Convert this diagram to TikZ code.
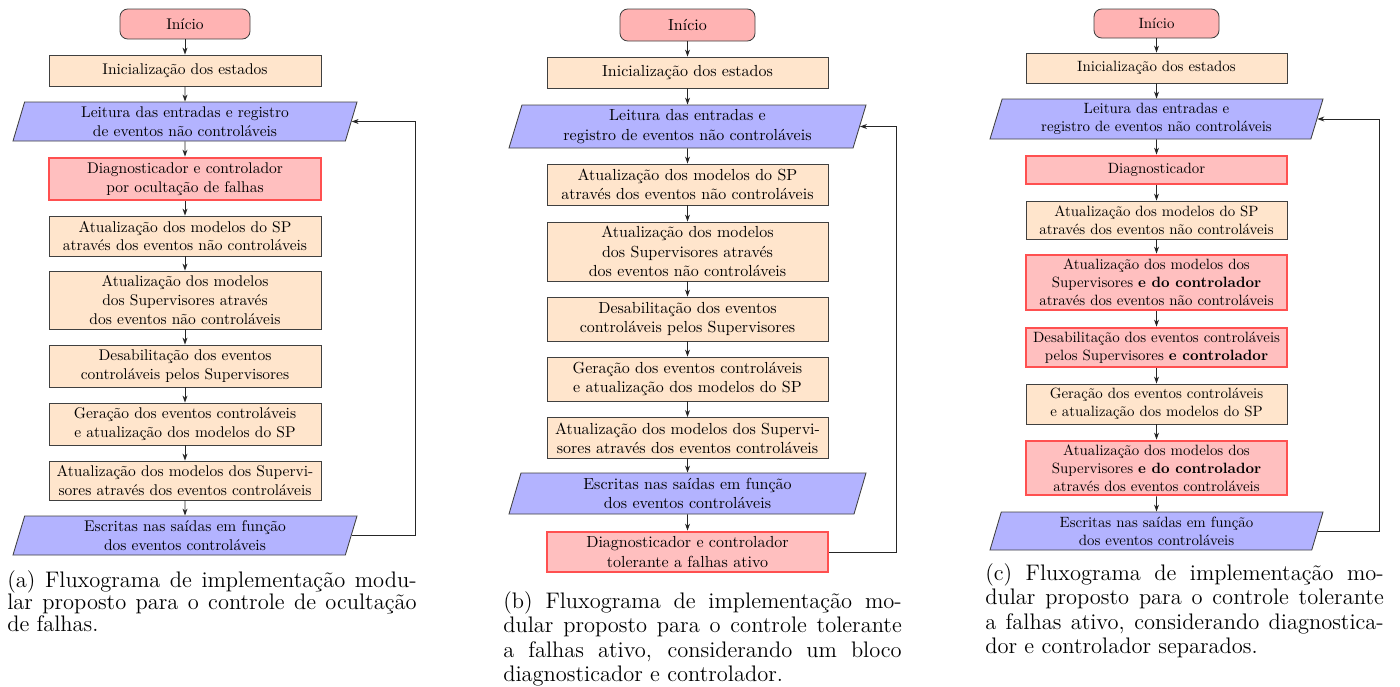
\documentclass[tikz,border=0pt]{standalone}
\usepackage{xcolor}
\usepackage{tikz}
\usetikzlibrary{shapes.geometric, arrows.meta}
\definecolor{startred}{RGB}{255,179,179}
\definecolor{procorange}{RGB}{255,229,204}
\definecolor{ioblue}{RGB}{179,179,255}
\definecolor{hotfill}{RGB}{255,191,191}
\definecolor{hotedge}{RGB}{255,80,80}
\newcommand{\pxu}{*0.645pt}

\tikzset{
  base/.style={align=center, inner sep=2pt, draw=black!75, line width=0.55pt},
  startbox/.style={base, rectangle, rounded corners=5pt, fill=startred},
  procbox/.style={base, rectangle, fill=procorange},
  iobox/.style={base, trapezium, trapezium left angle=72, trapezium right angle=108,
    trapezium stretches body, fill=ioblue},
  hotbox/.style={base, rectangle, draw=hotedge, line width=1.8pt, fill=hotfill},
  flow/.style={-{Stealth[length=4.5pt,width=3.2pt]}, black!85, line width=0.55pt},
  capnode/.style={anchor=north west, inner sep=0pt, align=left},
}

\begin{document}
\begin{tikzpicture}[x=0.645pt, y=-0.645pt]
  \useasboundingbox (0,0) rectangle (1400,686);

  % (a) ocultacao de falhas
  \begin{scope}[every node/.append style={font=\fontsize{10}{12}\selectfont},
      procbox/.append style={minimum width=272\pxu},
      hotbox/.append style={minimum width=272\pxu},
      iobox/.append style={minimum width=344\pxu}]
    \node[startbox, minimum width=130\pxu, minimum height=30\pxu] (a1) at (185,24) {Início};
    \node[procbox, minimum height=31\pxu] (a2) at (185,70.5) {Inicialização dos estados};
    \node[iobox, minimum height=39\pxu] (a3) at (185,121.5) {Leitura das entradas e registro\\de eventos não controláveis};
    \node[hotbox, minimum height=42\pxu] (a4) at (185,179) {Diagnosticador e controlador\\por ocultação de falhas};
    \node[procbox, minimum height=40\pxu] (a5) at (185,236) {Atualização dos modelos do SP\\através dos eventos não controláveis};
    \node[procbox, minimum height=58\pxu] (a6) at (185,300) {Atualização dos modelos\\dos Supervisores através\\dos eventos não controláveis};
    \node[procbox, minimum height=42\pxu] (a7) at (185,366) {Desabilitação dos eventos\\controláveis pelos Supervisores};
    \node[procbox, minimum height=42\pxu] (a8) at (185,424) {Geração dos eventos controláveis\\e atualização dos modelos do SP};
    \node[procbox, minimum height=39\pxu] (a9) at (185,480.5) {Atualização dos modelos dos Supervi-\\sores através dos eventos controláveis};
    \node[iobox, minimum height=39\pxu] (a10) at (185,535.5) {Escritas nas saídas em função\\dos eventos controláveis};
    \foreach \i [count=\j from 2] in {1,...,9}
      \draw[flow] (a\i) -- (a\j);
    \coordinate (aloop) at (415,0);
    \draw[flow] (a10.east) -- (a10.east -| aloop) |- (a3.east);
    \node[capnode, font=\fontsize{14.5}{14.2}\selectfont] (acap) at (7,570) {%
      \makebox[264pt][s]{(a) Fluxograma de implementação modu-}\\
      \makebox[264pt][s]{lar proposto para o controle de ocultação}\\
      de falhas.};
  \end{scope}

  % (b) diagnosticador e controlador num bloco
  \begin{scope}[every node/.append style={font=\fontsize{10.33}{12.4}\selectfont},
      procbox/.append style={minimum width=281\pxu},
      hotbox/.append style={minimum width=281\pxu},
      iobox/.append style={minimum width=357\pxu}]
    \node[startbox, minimum width=135\pxu, minimum height=32\pxu] (b1) at (687.5,25) {Início};
    \node[procbox, minimum height=31\pxu] (b2) at (687.5,72.5) {Inicialização dos estados};
    \node[iobox, minimum height=43\pxu] (b3) at (687.5,126.5) {Leitura das entradas e\\registro de eventos não controláveis};
    \node[procbox, minimum height=41\pxu] (b4) at (687.5,184.5) {Atualização dos modelos do SP\\através dos eventos não controláveis};
    \node[procbox, minimum height=59\pxu] (b5) at (687.5,251.5) {Atualização dos modelos\\dos Supervisores através\\dos eventos não controláveis};
    \node[procbox, minimum height=44\pxu] (b6) at (687.5,319) {Desabilitação dos eventos\\controláveis pelos Supervisores};
    \node[procbox, minimum height=44\pxu] (b7) at (687.5,379) {Geração dos eventos controláveis\\e atualização dos modelos do SP};
    \node[procbox, minimum height=41\pxu] (b8) at (687.5,438) {Atualização dos modelos dos Supervi-\\sores através dos eventos controláveis};
    \node[iobox, minimum height=41\pxu] (b9) at (687.5,493.5) {Escritas nas saídas em função\\dos eventos controláveis};
    \node[hotbox, minimum height=40\pxu] (b10) at (687.5,552) {Diagnosticador e controlador\\tolerante a falhas ativo};
    \foreach \i [count=\j from 2] in {1,...,9}
      \draw[flow] (b\i) -- (b\j);
    \coordinate (bloop) at (896,0);
    \draw[flow] (b10.east) -- (b10.east -| bloop) |- (b3.east);
    \node[capnode, font=\fontsize{14.5}{15.8}\selectfont] (bcap) at (503,591) {%
      \makebox[257pt][s]{(b) Fluxograma de implementação mo-}\\
      \makebox[257pt][s]{dular proposto para o controle tolerante}\\
      \makebox[257pt][s]{a falhas ativo, considerando um bloco}\\
      diagnosticador e controlador.};
  \end{scope}

  % (c) diagnosticador e controlador separados
  \begin{scope}[every node/.append style={font=\fontsize{9.6}{11.5}\selectfont},
      procbox/.append style={minimum width=261\pxu},
      hotbox/.append style={minimum width=261\pxu},
      iobox/.append style={minimum width=333\pxu}]
    \node[startbox, minimum width=125\pxu, minimum height=29\pxu] (c1) at (1156.5,23.5) {Início};
    \node[procbox, minimum height=30\pxu] (c2) at (1156.5,68) {Inicialização dos estados};
    \node[iobox, minimum height=40\pxu] (c3) at (1156.5,119) {Leitura das entradas e\\registro de eventos não controláveis};
    \node[hotbox, minimum height=28\pxu] (c4) at (1156.5,170) {Diagnosticador};
    \node[procbox, minimum height=38\pxu] (c5) at (1156.5,220) {Atualização dos modelos do SP\\através dos eventos não controláveis};
    \node[hotbox, minimum height=55\pxu] (c6) at (1156.5,282.5) {Atualização dos modelos dos\\Supervisores \textbf{e do controlador}\\através dos eventos não controláveis};
    \node[hotbox, minimum height=39\pxu] (c7) at (1156.5,347.5) {Desabilitação dos eventos controláveis\\pelos Supervisores \textbf{e controlador}};
    \node[procbox, minimum height=40\pxu] (c8) at (1156.5,404) {Geração dos eventos controláveis\\e atualização dos modelos do SP};
    \node[hotbox, minimum height=54\pxu] (c9) at (1156.5,468) {Atualização dos modelos dos\\Supervisores \textbf{e do controlador}\\através dos eventos controláveis};
    \node[iobox, minimum height=38\pxu] (c10) at (1156.5,531) {Escritas nas saídas em função\\dos eventos controláveis};
    \foreach \i [count=\j from 2] in {1,...,9}
      \draw[flow] (c\i) -- (c\j);
    \coordinate (cloop) at (1379,0);
    \draw[flow] (c10.east) -- (c10.east -| cloop) |- (c3.east);
    \node[capnode, font=\fontsize{14.5}{15.8}\selectfont] (ccap) at (985,563) {%
      \makebox[257pt][s]{(c) Fluxograma de implementação mo-}\\
      \makebox[257pt][s]{dular proposto para o controle tolerante}\\
      \makebox[257pt][s]{a falhas ativo, considerando diagnostica-}\\
      dor e controlador separados.};
  \end{scope}
\end{tikzpicture}
\end{document}
